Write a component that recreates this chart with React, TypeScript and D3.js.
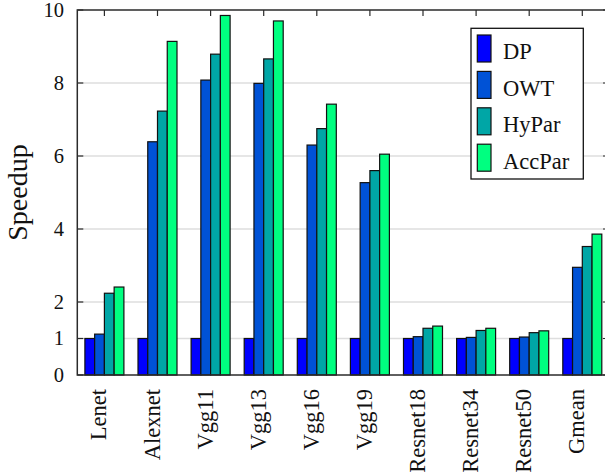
import React from "react";
import * as d3 from "d3";

// Benchmarks on the x axis
const categories = [
  "Lenet", "Alexnet", "Vgg11", "Vgg13", "Vgg16", "Vgg19",
  "Resnet18", "Resnet34", "Resnet50", "Gmean",
];

// Speedup of each parallelization strategy, per benchmark
const seriesNames = ["DP", "OWT", "HyPar", "AccPar"];
const dpValues = [1, 1, 1, 1, 1, 1, 1, 1, 1, 1];
const owtValues = [1.12, 6.39, 8.08, 7.99, 6.3, 5.27, 1.05, 1.03, 1.04, 2.95];
const hyparValues = [2.24, 7.23, 8.79, 8.66, 6.75, 5.6, 1.28, 1.22, 1.16, 3.52];
const accparValues = [2.41, 9.14, 9.85, 9.7, 7.42, 6.05, 1.34, 1.28, 1.21, 3.86];

const yTicks = [0, 1, 2, 4, 6, 8, 10];
const gridTicks = [1, 2, 4, 6, 8];
const seriesColors = ["#0000ff", "#0052d6", "#00a6a6", "#00ff80"];

const W = 605;
const H = 476;
const plot = { left: 77.3, right: 609, top: 10, bottom: 375 };
const FONT = "Liberation Serif";

export default function App() {
  const series = [dpValues, owtValues, hyparValues, accparValues];

  const y = d3.scaleLinear().domain([0, 10]).range([plot.bottom, plot.top]);
  const xCenter = d3
    .scalePoint<string>()
    .domain(categories)
    .range([104.4, 582.3]);
  const xInner = d3
    .scaleBand<string>()
    .domain(seriesNames)
    .range([-19.5, 19.5])
    .padding(0);

  const axisColor = "#2b2b2b";
  const textStyle = { fontFamily: FONT };

  return (
    <svg
      width={W}
      height={H}
      style={{ position: "absolute", left: 0, top: 0, background: "#fff", fontFamily: FONT }}
    >
      <defs>
        <clipPath id="plotClip">
          <rect x={0} y={0} width={W} height={H} />
        </clipPath>
      </defs>
      <g clipPath="url(#plotClip)">
        {/* horizontal grid */}
        {gridTicks.map((t) => (
          <line
            key={`g${t}`}
            x1={plot.left}
            x2={plot.right}
            y1={y(t)}
            y2={y(t)}
            stroke="#dedede"
            strokeWidth={1.4}
          />
        ))}

        {/* y tick marks, left (inward) and right (inward) */}
        {yTicks.map((t) => (
          <g key={`t${t}`}>
            <line
              x1={plot.left}
              x2={plot.left + 6}
              y1={y(t)}
              y2={y(t)}
              stroke={axisColor}
              strokeWidth={1.2}
            />
            <line
              x1={plot.right - 6}
              x2={plot.right}
              y1={y(t)}
              y2={y(t)}
              stroke={axisColor}
              strokeWidth={1.2}
            />
          </g>
        ))}

        {/* x tick marks on top and bottom */}
        {categories.map((c) => (
          <g key={`xt${c}`}>
            <line
              x1={xCenter(c)}
              x2={xCenter(c)}
              y1={plot.top}
              y2={plot.top + 6}
              stroke={axisColor}
              strokeWidth={1.2}
            />
            <line
              x1={xCenter(c)}
              x2={xCenter(c)}
              y1={plot.bottom}
              y2={plot.bottom - 6}
              stroke={axisColor}
              strokeWidth={1.2}
            />
          </g>
        ))}

        {/* bars */}
        {categories.map((c, ci) => (
          <g key={`b${c}`} transform={`translate(${xCenter(c)},0)`}>
            {series.map((vals, si) => {
              const v = vals[ci];
              const x0 = xInner(seriesNames[si]) as number;
              return (
                <rect
                  key={si}
                  x={x0}
                  y={y(v)}
                  width={xInner.bandwidth()}
                  height={y(0) - y(v)}
                  fill={seriesColors[si]}
                  stroke="#111"
                  strokeWidth={1.2}
                />
              );
            })}
          </g>
        ))}

        {/* frame */}
        <rect
          x={plot.left}
          y={plot.top}
          width={plot.right - plot.left}
          height={plot.bottom - plot.top}
          fill="none"
          stroke={axisColor}
          strokeWidth={1.5}
        />
      </g>

      {/* y tick labels */}
      {yTicks.map((t) => (
        <text
          key={`yl${t}`}
          x={64}
          y={y(t)}
          dy="0.34em"
          textAnchor="end"
          fontSize={20.5}
          fill="#111"
          style={textStyle}
        >
          {t}
        </text>
      ))}

      {/* y axis title */}
      <text
        transform={`translate(27,${(plot.top + plot.bottom) / 2}) rotate(-90)`}
        textAnchor="middle"
        fontSize={28}
        fill="#111"
        style={textStyle}
      >
        Speedup
      </text>

      {/* x tick labels */}
      {categories.map((c) => (
        <text
          key={`xl${c}`}
          transform={`translate(${(xCenter(c) as number) + 2},389) rotate(-90)`}
          textAnchor="end"
          fontSize={22.5}
          fill="#111"
          style={textStyle}
        >
          {c}
        </text>
      ))}

      {/* legend */}
      <g>
        <rect
          x={471}
          y={28.3}
          width={112.3}
          height={150.7}
          fill="#fff"
          stroke="#111"
          strokeWidth={1.3}
        />
        {seriesNames.map((name, i) => {
          const top = 35 + i * 36.4;
          return (
            <g key={`lg${name}`}>
              <rect
                x={477.3}
                y={top}
                width={13.7}
                height={27}
                fill={seriesColors[i]}
                stroke="#111"
                strokeWidth={1.2}
              />
              <text
                x={503}
                y={top + 24.3}
                fontSize={22.5}
                fill="#111"
                style={textStyle}
              >
                {name}
              </text>
            </g>
          );
        })}
      </g>
    </svg>
  );
}
